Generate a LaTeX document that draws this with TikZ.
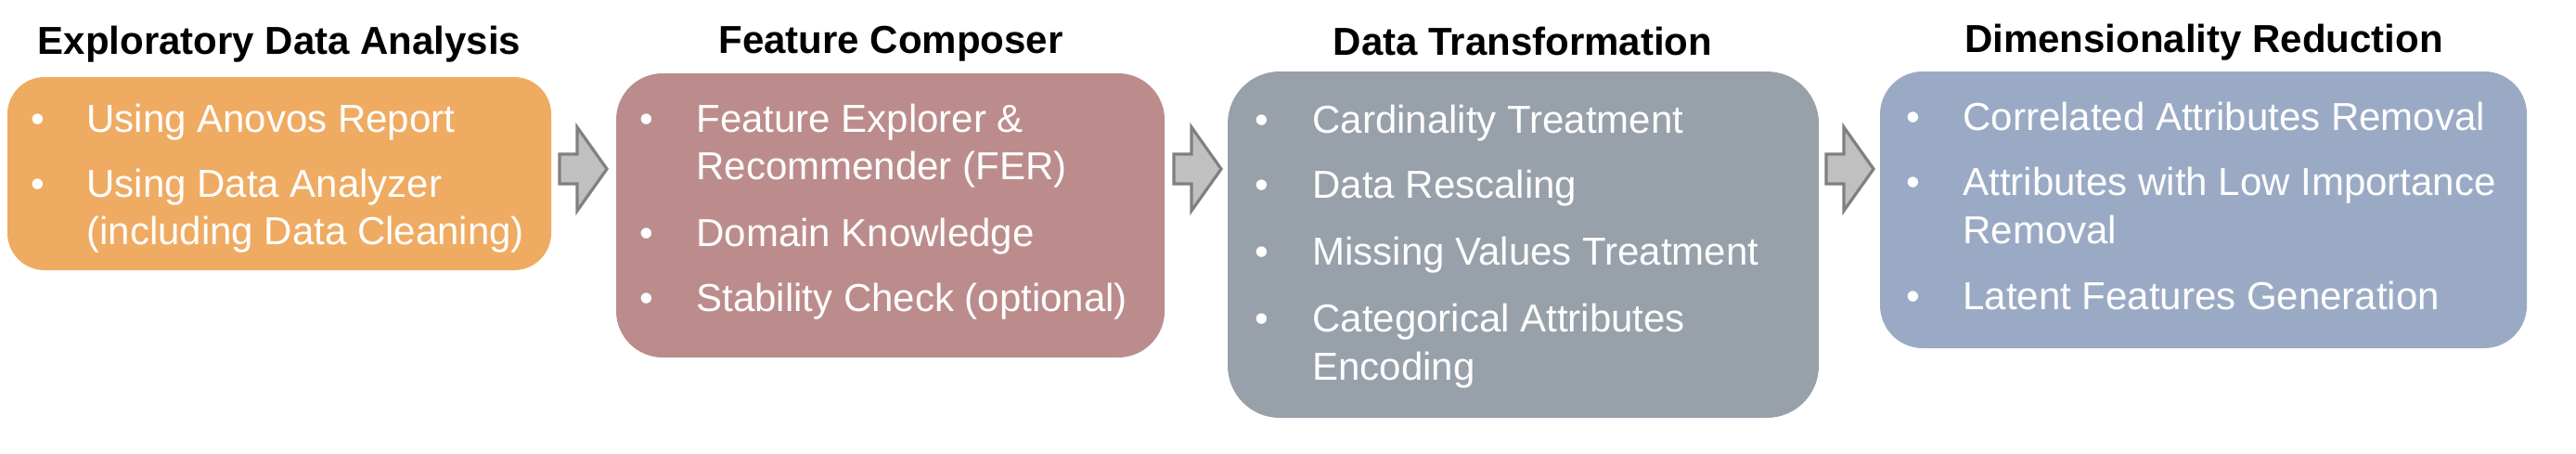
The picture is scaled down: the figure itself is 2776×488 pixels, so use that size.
\documentclass[tikz,border=0pt]{standalone}
\usepackage{fontspec}
\setmainfont{Liberation Sans}
\usetikzlibrary{fit}
\definecolor{cEDA}{HTML}{EFAB62}
\definecolor{cFC}{HTML}{BC8C8C}
\definecolor{cDT}{HTML}{98A0AA}
\definecolor{cDR}{HTML}{9BAAC4}
\definecolor{arrfill}{HTML}{C0C0C0}
\definecolor{arrline}{HTML}{808080}
\tikzset{
  stagebox/.style={inner sep=0pt, draw=none},
  ttl/.style={anchor=base, inner sep=0pt, font=\fontsize{21}{25}\selectfont\bfseries, text=black},
  txt/.style={anchor=base west, inner sep=0pt, font=\fontsize{21}{25}\selectfont, text=white},
  bul/.style={anchor=base, inner sep=0pt, font=\fontsize{21}{25}\selectfont, text=white},
  barrow/.style={fill=arrfill, draw=arrline, line width=1.6pt, line join=miter},
}
\begin{document}
\begin{tikzpicture}[x=0.5pt, y=-0.5pt]
\useasboundingbox (0,0) rectangle (2776,488);

% boxes
\node[stagebox, fill=cEDA, rounded corners=20pt, fit={(8,83)(594,291)}] (b1) {};
\node[stagebox, fill=cFC, rounded corners=25pt, fit={(664,79)(1255,385)}] (b2) {};
\node[stagebox, fill=cDT, rounded corners=28pt, fit={(1323,77)(1960,450)}] (b3) {};
\node[stagebox, fill=cDR, rounded corners=23pt, fit={(2026,77)(2723,375)}] (b4) {};

% titles
\node[ttl] (h1) at (301,58) {Exploratory Data Analysis};
\node[ttl] (h2) at (960,57) {Feature Composer};
\node[ttl] (h3) at (1641,59) {Data Transformation};
\node[ttl] (h4) at (2375,56) {Dimensionality Reduction};

% box 1
\node[bul] (p11) at (41,142) {•};
\node[txt] (t11) at (93,142) {Using Anovos Report};
\node[bul] (p12) at (41,212) {•};
\node[txt] (t12) at (93,212) {Using Data Analyzer};
\node[txt] (t13) at (93,263) {(including Data Cleaning)};

% box 2
\node[bul] (p21) at (697,142) {•};
\node[txt] (t21) at (750,142) {Feature Explorer \&};
\node[txt] (t22) at (750,193) {Recommender (FER)};
\node[bul] (p22) at (697,265) {•};
\node[txt] (t23) at (750,265) {Domain Knowledge};
\node[bul] (p23) at (697,335) {•};
\node[txt] (t24) at (750,335) {Stability Check (optional)};

% box 3
\node[bul] (p31) at (1360,143) {•};
\node[txt] (t31) at (1414,143) {Cardinality Treatment};
\node[bul] (p32) at (1360,213) {•};
\node[txt] (t32) at (1414,213) {Data Rescaling};
\node[bul] (p33) at (1360,285) {•};
\node[txt] (t33) at (1414,285) {Missing Values Treatment};
\node[bul] (p34) at (1360,357) {•};
\node[txt] (t34) at (1414,357) {Categorical Attributes};
\node[txt] (t35) at (1414,409) {Encoding};

% box 4
\node[bul] (p41) at (2062,140) {•};
\node[txt] (t41) at (2115,140) {Correlated Attributes Removal};
\node[bul] (p42) at (2062,210) {•};
\node[txt] (t42) at (2115,210) {Attributes with Low Importance};
\node[txt] (t43) at (2115,262) {Removal};
\node[bul] (p43) at (2062,333) {•};
\node[txt] (t44) at (2115,333) {Latent Features Generation};

% block arrows between stages
\coordinate (a1) at (603,182);
\coordinate (a2) at (1265,182);
\coordinate (a3) at (1968,182);
\foreach \a in {a1,a2,a3}{
  \draw[barrow, shift={(\a)}] (0,-16) -- (19,-16) -- (19,-45) -- (51,0) -- (19,45) -- (19,16) -- (0,16) -- cycle;
}
\end{tikzpicture}
\end{document}
